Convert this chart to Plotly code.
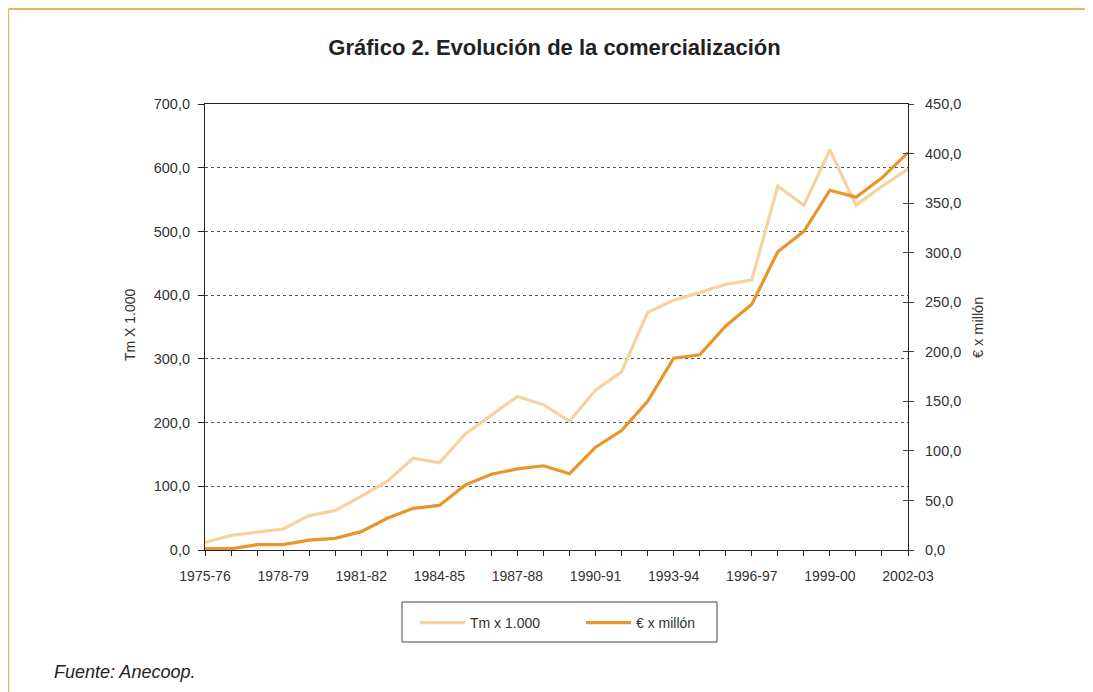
import plotly.graph_objects as go

seasons = ["1975-76", "1976-77", "1977-78", "1978-79", "1979-80", "1980-81", "1981-82",
           "1982-83", "1983-84", "1984-85", "1985-86", "1986-87", "1987-88", "1988-89",
           "1989-90", "1990-91", "1991-92", "1992-93", "1993-94", "1994-95", "1995-96",
           "1996-97", "1997-98", "1998-99", "1999-00", "2000-01", "2001-02", "2002-03"]
tm_miles = [12, 23, 28, 33, 54, 62, 84, 108, 144, 137, 182, 211, 241, 228, 202, 251,
            280, 373, 392, 404, 417, 424, 571, 541, 628, 541, 571, 598]
eur_millones = [1.3, 1.3, 5.4, 5.4, 10, 11.8, 18.5, 32, 42, 45, 65.7, 76.5, 81.8, 85,
                77, 103.7, 120.5, 150, 193.6, 197, 226, 248, 301, 321.5, 363, 356, 375.5, 401]
label_seasons = ["1975-76", "1978-79", "1981-82", "1984-85", "1987-88", "1990-91",
                 "1993-94", "1996-97", "1999-00", "2002-03"]
left_ticks = [0, 100, 200, 300, 400, 500, 600, 700]
right_ticks = [0, 50, 100, 150, 200, 250, 300, 350, 400, 450]

LIGHT = "#F6D2A0"
DARK = "#E8952B"
FONT = "Liberation Sans, Arial, sans-serif"
TXT = "#333333"

W, H = 1093, 692
OFF = 8  # page body margin offset
# plot area in screen pixels
SX0, SX1, SY0, SY1 = 205, 908, 104, 550
L, R, T, B = SX0 - OFF, W - (SX1 - OFF), SY0 - OFF, H - (SY1 - OFF)
PW, PH = SX1 - SX0, SY1 - SY0


def px(x):
    return (x - SX0) / PW


def py(y):
    return (SY1 - y) / PH


def fmt(v):
    return f"{v:.1f}".replace(".", ",")


fig = go.Figure()
fig.add_trace(go.Scatter(x=seasons, y=tm_miles, name="Tm x 1.000", mode="lines",
                         line=dict(color=LIGHT, width=3.2), yaxis="y"))
fig.add_trace(go.Scatter(x=seasons, y=eur_millones, name="€ x millón", mode="lines",
                         line=dict(color=DARK, width=3.2), yaxis="y2"))
# invisible helper trace for the inner right-axis ticks
fig.add_trace(go.Scatter(x=[seasons[0]], y=[0], yaxis="y3", mode="markers",
                         marker=dict(opacity=0), showlegend=False, hoverinfo="skip"))

fig.update_layout(
    width=W, height=H,
    margin=dict(l=L, r=R, t=T, b=B, pad=0),
    paper_bgcolor="white", plot_bgcolor="white",
    font=dict(family=FONT, size=14, color=TXT),
    title=dict(text="<b>Gráfico 2. Evolución de la comercialización</b>",
               x=(554.5 - OFF) / W, xanchor="center", y=1 - (47 - OFF) / H, yanchor="middle",
               font=dict(family=FONT, size=22, color="#222222")),
    xaxis=dict(type="category", range=[0, len(seasons) - 1],
               tickmode="array", tickvals=seasons,
               ticktext=[s if s in label_seasons else "" for s in seasons],
               ticks="outside", ticklen=5, tickcolor="#222222", ticklabelstandoff=8,
               showline=True, linecolor="#222222", linewidth=1.2, mirror=True,
               showgrid=False, zeroline=False, tickfont=dict(size=14, color=TXT)),
    yaxis=dict(range=[0, 700], tickvals=left_ticks, ticktext=[fmt(v) for v in left_ticks],
               ticks="outside", ticklen=6, tickcolor="#222222", ticklabelstandoff=5,
               showline=True, linecolor="#222222", linewidth=1.2,
               showgrid=True, gridcolor="#555555", griddash="dot", gridwidth=1,
               zeroline=False, tickfont=dict(size=14.5, color=TXT)),
    yaxis2=dict(range=[0, 450], tickvals=right_ticks, ticktext=[fmt(v) for v in right_ticks],
                overlaying="y", side="right",
                ticks="outside", ticklen=5, tickcolor="#444444", ticklabelstandoff=8,
                showline=True, linecolor="#222222", linewidth=1.2,
                showgrid=False, zeroline=False, tickfont=dict(size=14.5, color=TXT)),
    yaxis3=dict(range=[0, 450], tickvals=right_ticks, overlaying="y", side="right",
                ticks="inside", ticklen=5, tickcolor="#444444", showticklabels=False,
                showline=False, showgrid=False, zeroline=False),
    showlegend=True,
    legend=dict(orientation="h", x=px(415), xanchor="left", y=py(607), yanchor="top",
                borderwidth=0, bgcolor="rgba(0,0,0,0)",
                font=dict(size=14, color=TXT), entrywidth=106, itemwidth=45),
)

# legend frame
fig.add_shape(type="rect", xref="paper", yref="paper",
              x0=px(402), x1=px(717), y0=py(602), y1=py(642),
              line=dict(color="#444444", width=1), fillcolor="rgba(0,0,0,0)", layer="below")

fig.add_annotation(text="Tm X 1.000", x=px(130), y=py(325), xref="paper", yref="paper",
                   xanchor="center", yanchor="middle",
                   textangle=-90, showarrow=False, font=dict(size=14, color=TXT))
fig.add_annotation(text="€ x millón", x=px(978), y=py(328), xref="paper", yref="paper",
                   xanchor="center", yanchor="middle",
                   textangle=-90, showarrow=False, font=dict(size=14.5, color=TXT))
fig.add_annotation(text="<i>Fuente: Anecoop.</i>", x=px(52), y=py(672), xref="paper", yref="paper",
                   xanchor="left", yanchor="middle", showarrow=False,
                   font=dict(size=18, color="#222222"))

# orange frame (top and left edges of the page box)
fig.add_shape(type="line", xref="paper", yref="paper", x0=px(OFF + 0.5), x1=px(W + 20),
              y0=py(OFF + 1), y1=py(OFF + 1), line=dict(color="#EFB264", width=2))
fig.add_shape(type="line", xref="paper", yref="paper", x0=px(OFF + 0.6), x1=px(OFF + 0.6),
              y0=py(OFF + 1), y1=py(H + 20), line=dict(color="#EFB264", width=1.2))

fig.write_html("out.html")
